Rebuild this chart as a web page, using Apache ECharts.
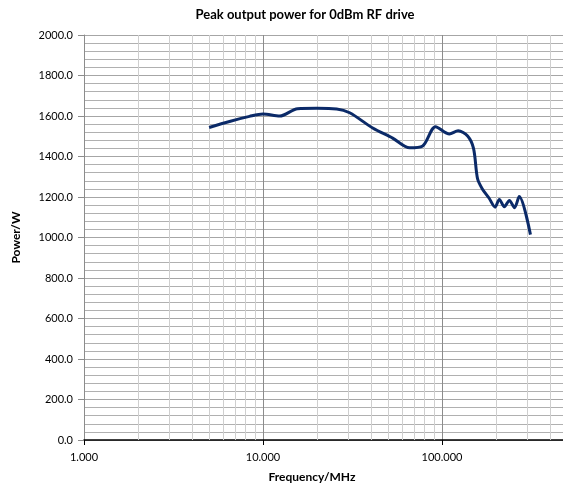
<!DOCTYPE html>
<html>
<head>
<meta charset="utf-8">
<script src="https://cdn.jsdelivr.net/npm/echarts@6/dist/echarts.min.js"></script>
<style>html,body{margin:0;padding:0;background:#fff}#c{width:563px;height:497px}</style>
</head>
<body>
<div id="c"></div>
<script>
const titleText = 'Peak output power for 0dBm RF drive';
const xName = 'Frequency/MHz';
const yName = 'Power/W';
const freqMHz = [5, 6.5, 8.4, 10, 12.4, 15.6, 20, 25.8, 30.5, 41, 53, 66, 78, 92, 110, 123, 139, 150, 158, 168, 183, 198, 209, 223, 238, 254, 270, 312];
const powerW = [1543, 1573, 1598, 1610, 1600, 1636, 1638, 1635, 1616, 1541, 1491, 1443, 1452, 1547, 1511, 1527, 1501, 1440, 1290, 1240, 1195, 1150, 1188, 1152, 1183, 1147, 1202, 1014];
const xMinorGrid = [2,3,4,5,6,7,8,9,20,30,40,50,60,70,80,90,200,300,400,500,600,700,800,900];

const FONT = 'Lato, "Liberation Sans", sans-serif';
const chart = echarts.init(document.getElementById('c'), null, {renderer: 'canvas'});
chart.setOption({
  animation: false,
  backgroundColor: '#ffffff',
  title: [
    {text: titleText, left: 300, top: 3, textAlign: 'center',
     textStyle: {fontFamily: FONT, fontSize: 13, fontWeight: 'bold', color: '#000'}},
    {text: xName, left: 307, top: 466, textAlign: 'center',
     textStyle: {fontFamily: FONT, fontSize: 12, fontWeight: 'bold', color: '#000'}}
  ],
  grid: {left: 84, right: -58, top: 35, bottom: 57, containLabel: false, outerBoundsMode: 'none'},
  xAxis: {
    type: 'log', logBase: 10, min: 1, max: 1000,
    axisLine: {show: true, onZero: false, lineStyle: {color: '#000', width: 1.5}},
    axisTick: {show: true, inside: false, length: 5, lineStyle: {color: '#000'}},
    axisLabel: {formatter: v => Number(v).toFixed(3), fontFamily: FONT, fontSize: 11, color: '#000', margin: 12},
    splitLine: {show: true, lineStyle: {color: '#8c8c8c', width: 1}}
  },
  yAxis: {
    type: 'value', min: 0, max: 2000, interval: 200,
    name: yName, nameLocation: 'middle', nameGap: 62,
    nameTextStyle: {fontFamily: FONT, fontSize: 12, fontWeight: 'bold', color: '#000'},
    axisLine: {show: true, lineStyle: {color: '#8c8c8c', width: 1}},
    axisTick: {show: true, inside: false, length: 6, lineStyle: {color: '#8c8c8c'}},
    axisLabel: {formatter: v => Number(v).toFixed(1), fontFamily: FONT, fontSize: 11, color: '#000', margin: 11},
    splitLine: {show: true, lineStyle: {color: '#a6a6a6', width: 1}},
    minorTick: {show: false, splitNumber: 5},
    minorSplitLine: {show: true, lineStyle: {color: '#b0b0b0', width: 1}}
  },
  series: [
    {
      type: 'line', data: [], z: 1, silent: true,
      markLine: {
        silent: true, symbol: ['none', 'none'], animation: false,
        label: {show: false},
        lineStyle: {color: '#cfcfcf', width: 1, type: 'solid'},
        data: xMinorGrid.map(v => ({xAxis: v}))
      }
    },
    {
      type: 'line', z: 5,
      data: freqMHz.map((f, i) => [f, powerW[i]]),
      smooth: 0.3, showSymbol: false,
      lineStyle: {color: '#0b2a68', width: 3}
    }
  ]
});
</script>
</body>
</html>
